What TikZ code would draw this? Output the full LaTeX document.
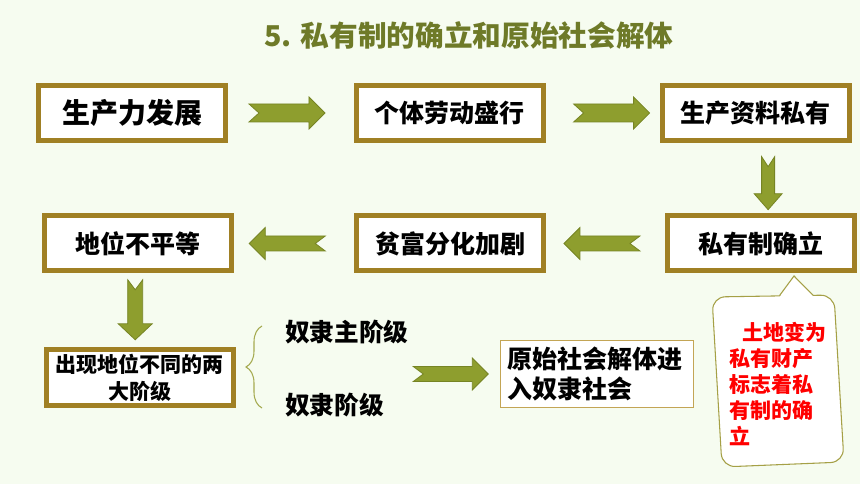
\documentclass[tikz,border=0pt]{standalone}
\usepackage{fontspec}
\setmainfont{Noto Sans CJK SC}
\usetikzlibrary{calc,decorations.pathreplacing}
\definecolor{bg}{RGB}{246,252,240}
\definecolor{gold}{RGB}{160,128,36}
\definecolor{olivefill}{RGB}{142,158,46}
\definecolor{oliveline}{RGB}{118,132,36}
\definecolor{titlecol}{RGB}{110,122,40}
\definecolor{bracecol}{RGB}{165,170,80}
\definecolor{calloutline}{RGB}{165,160,70}
\definecolor{thinbox}{RGB}{195,165,85}
\tikzset{
  bigbox/.style={draw=gold, line width=3.75pt, fill=white, minimum width=140.25pt,
    minimum height=41.25pt, inner sep=0pt, align=center,
    font=\fontsize{18.75pt}{22pt}\selectfont\bfseries},
  arrowst/.style={fill=olivefill, draw=oliveline, line width=0.6pt, line join=miter},
  pics/barrow/.style n args={3}{code={
    \filldraw[arrowst] ({-#1/2},{-#3}) -- ({#1/2-16},{-#3}) -- ({#1/2-16},{-#2})
      -- ({#1/2},0) -- ({#1/2-16},{#2}) -- ({#1/2-16},{#3}) -- ({-#1/2},{#3})
      -- ({-#1/2+10},0) -- cycle;
  }},
  labeltext/.style={anchor=west, inner sep=0pt, font=\fontsize{18.5pt}{22pt}\selectfont\bfseries},
  bracest/.style={draw=bracecol, line width=0.8pt},
  calloutst/.style={draw=calloutline, line width=0.8pt, fill=white},
}
\begin{document}
\begin{tikzpicture}[x=0.75pt, y=-0.75pt]
\useasboundingbox (0,0) rectangle (860,484);
\fill[bg] (0,0) rectangle (860,484);

% title
\node[text=titlecol, font=\fontsize{21.5pt}{24pt}\selectfont\bfseries] (title) at (469,35) {5. 私有制的确立和原始社会解体};

% boxes
\node[bigbox, font=\fontsize{21pt}{24pt}\selectfont\bfseries] (b1) at (132,113) {生产力发展};
\node[bigbox] (b2) at (449.5,113) {个体劳动盛行};
\node[bigbox] (b3) at (755.5,113) {生产资料私有};
\node[bigbox] (b4) at (138,243.5) {地位不平等};
\node[bigbox] (b5) at (450,243.5) {贫富分化加剧};
\node[bigbox] (b6) at (761,243.5) {私有制确立};
\node[bigbox, font=\fontsize{15.75pt}{20.25pt}\selectfont\bfseries] (b7) at (139.5,377.5) {出现地位不同的两\\大阶级};
\node[draw=thinbox, line width=1.1pt, fill=white, minimum width=144.4pt, minimum height=49.9pt,
  text width=134pt, inner xsep=5pt, inner ysep=0pt, align=left,
  font=\fontsize{18.75pt}{22.5pt}\selectfont\bfseries] (b8) at (597,374) {原始社会解体进\\入奴隶社会};

% class labels
\node[labeltext] (s1) at (285,332) {奴隶主阶级};
\node[labeltext] (s2) at (285,405) {奴隶阶级};

% brace
\coordinate (brt) at (262,326);
\coordinate (brb) at (262,408);
\draw[bracest, decorate, decoration={brace, amplitude=12pt}] (brb) -- (brt);

% block arrows
\pic at ($(b1.east)!0.47!(b2.west)$) {barrow={76}{16}{9}};
\pic at ($(b2.east)!0.58!(b3.west)$) {barrow={76}{16}{9}};
\pic[rotate=-90] at ($(b3.south)!0.57!(b6.north)+(9.5,0)$) {barrow={53}{14}{6.5}};
\pic[rotate=180] at ($(b6.west)!0.53!(b5.east)$) {barrow={76}{16}{7.5}};
\pic[rotate=180] at ($(b5.west)!0.556!(b4.east)$) {barrow={76}{16}{7.5}};
\pic[rotate=-90] at ($(b4.south)!0.49!(b7.north)+(-3.5,0)$) {barrow={60}{17}{7.5}};
\pic at ($(s1.east |- b8.west)!0.46!(b8.west)$) {barrow={75}{16}{7.5}};

% callout
\coordinate (ctip) at ($(b6.south)+(33,2.5)$);
\draw[calloutst, rounded corners=10pt] (712,297) -- (834,295) -- (844,462) -- (722,467) -- cycle;
\fill[white] (779,298) -- (ctip) -- (814,297) -- cycle;
\draw[draw=calloutline, line width=0.8pt, line join=miter] (779.5,295.6) -- (ctip) -- (813,295.2);
\node[anchor=north west, inner sep=0pt, align=left, text=red,
  font=\fontsize{15.75pt}{19.5pt}\selectfont\bfseries] (ctext) at (729,322)
  {\hspace*{10pt}土地变为\\私有财产\\标志着私\\有制的确\\立};
\end{tikzpicture}
\end{document}
